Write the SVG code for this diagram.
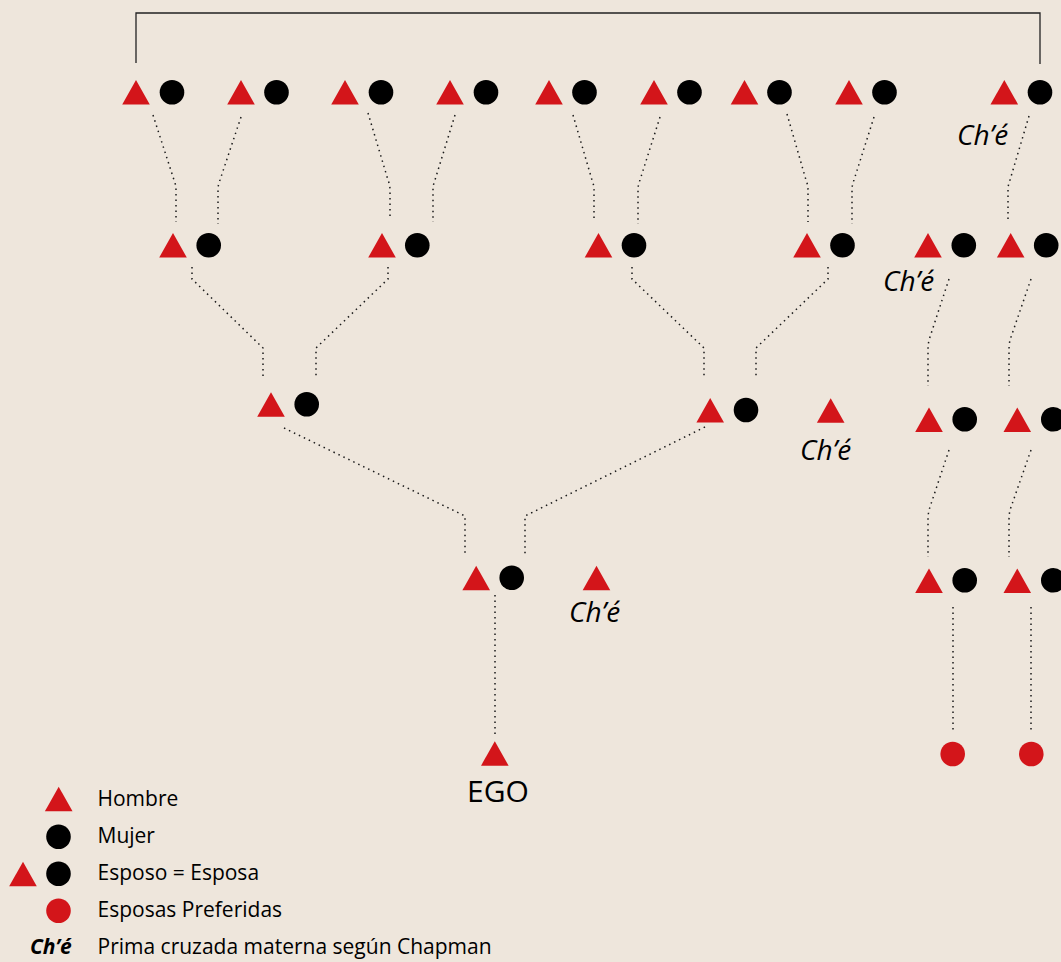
<svg xmlns="http://www.w3.org/2000/svg" xmlns:xlink="http://www.w3.org/1999/xlink" width="1061" height="962" viewBox="0 0 1061 962">
<style>
.m{fill:#D3151A}
.f{fill:#000}
.p{fill:#D3151A}
.c{fill:none;stroke:#1a1a1a;stroke-width:1.5;stroke-dasharray:1.5 4;stroke-linecap:butt}
.fr{fill:none;stroke:#222;stroke-width:1.3}
.che{font-family:"Open Sans","Noto Sans",sans-serif;font-style:italic;font-size:28px;fill:#000}
.lg{font-family:"Open Sans","Noto Sans",sans-serif;font-size:21px;fill:#000}
.ego{font-family:"Open Sans","Noto Sans",sans-serif;font-size:30px;fill:#000}
</style>
<defs>
<path id="tri" d="M0,-12.2 L13.8,12.2 L-13.8,12.2Z"/>
<circle id="dot" r="12.3"/>
</defs>
<rect width="1061" height="962" fill="#EEE6DC"/>
<g id="connectors">
<path class="fr" d="M136,63 L136,13 L1040,13 L1040,64"/>
<path class="c" d="M153,115 L174,180 Q176,185 176,190 L176,222"/>
<path class="c" d="M241,117 L220,180 Q218,185 218,190 L218,224"/>
<path class="c" d="M368,113 L388,180 Q390,185 390,190 L390,220"/>
<path class="c" d="M455,115 L435,180 Q433,185 433,190 L433,222"/>
<path class="c" d="M573,115 L592,180 Q594,185 594,190 L594,222"/>
<path class="c" d="M660,117 L640,180 Q638,185 638,190 L638,224"/>
<path class="c" d="M787,114 L806,180 Q808,185 808,190 L808,222"/>
<path class="c" d="M874,117 L854,180 Q852,185 852,190 L852,224"/>
<path class="c" d="M1029,116 L1010,180 Q1008,185 1008,190 L1008,222"/>
<path class="c" d="M192,267 L192,279 L263,348 L263,377"/>
<path class="c" d="M388,267 L388,279 L316,348 L316,377"/>
<path class="c" d="M632,267 L632,279 L704,348 L704,376"/>
<path class="c" d="M828,267 L828,279 L756,348 L756,376"/>
<path class="c" d="M949,279 L929,340 Q928,345 928,350 L928,386"/>
<path class="c" d="M1031,279 L1010,340 Q1009,345 1009,350 L1009,386"/>
<path class="c" d="M949,450 L929,510 Q928,515 928,520 L928,557"/>
<path class="c" d="M1031,450 L1010,510 Q1009,515 1009,520 L1009,557"/>
<path class="c" d="M284,428 L465,516 L465,554"/>
<path class="c" d="M705,427 L525,516 L525,554"/>
<path class="c" d="M495,595 L495,735"/>
<path class="c" d="M953,607 L953,730"/>
<path class="c" d="M1031,607 L1031,730"/>
</g>
<g id="gen1">
<g id="g1p1"><use href="#tri" class="m" x="136" y="92.3"/><use href="#dot" class="f" x="172" y="92.3"/></g>
<g id="g1p2"><use href="#tri" class="m" x="241" y="92.3"/><use href="#dot" class="f" x="276.5" y="92.3"/></g>
<g id="g1p3"><use href="#tri" class="m" x="345" y="92.3"/><use href="#dot" class="f" x="381" y="92.3"/></g>
<g id="g1p4"><use href="#tri" class="m" x="450" y="92.3"/><use href="#dot" class="f" x="486" y="92.3"/></g>
<g id="g1p5"><use href="#tri" class="m" x="549" y="92.3"/><use href="#dot" class="f" x="584.5" y="92.3"/></g>
<g id="g1p6"><use href="#tri" class="m" x="654" y="92.3"/><use href="#dot" class="f" x="689.5" y="92.3"/></g>
<g id="g1p7"><use href="#tri" class="m" x="744.5" y="92.3"/><use href="#dot" class="f" x="779.5" y="92.3"/></g>
<g id="g1p8"><use href="#tri" class="m" x="849" y="92.3"/><use href="#dot" class="f" x="884.5" y="92.3"/></g>
<g id="g1p9"><use href="#tri" class="m" x="1004.3" y="92.3"/><use href="#dot" class="f" x="1040" y="92.3"/></g>
<text id="che1" class="che" x="957" y="145">Ch’é</text>
</g>
<g id="gen2">
<g id="g2p1"><use href="#tri" class="m" x="173" y="245.3"/><use href="#dot" class="f" x="208.7" y="245.3"/></g>
<g id="g2p2"><use href="#tri" class="m" x="382" y="245.3"/><use href="#dot" class="f" x="417.3" y="245.3"/></g>
<g id="g2p3"><use href="#tri" class="m" x="598.5" y="245.3"/><use href="#dot" class="f" x="634" y="245.3"/></g>
<g id="g2p4"><use href="#tri" class="m" x="807" y="245.3"/><use href="#dot" class="f" x="842.5" y="245.3"/></g>
<g id="g2p5"><use href="#tri" class="m" x="928" y="245.3"/><use href="#dot" class="f" x="963.8" y="245.3"/></g>
<g id="g2p6"><use href="#tri" class="m" x="1010.7" y="245.3"/><use href="#dot" class="f" x="1046.2" y="245.3"/></g>
<text id="che2" class="che" x="883" y="291">Ch’é</text>
</g>
<g id="gen3">
<g id="g3p1"><use href="#tri" class="m" x="271" y="404.5"/><use href="#dot" class="f" x="306.7" y="404.3"/></g>
<g id="g3p2"><use href="#tri" class="m" x="710.2" y="410.3"/><use href="#dot" class="f" x="746" y="410"/></g>
<g id="g3m"><use href="#tri" class="m" x="830.7" y="410.5"/></g>
<text id="che3" class="che" x="800" y="460">Ch’é</text>
<g id="g3p3"><use href="#tri" class="m" x="929" y="419.7"/><use href="#dot" class="f" x="964.7" y="419.3"/></g>
<g id="g3p4"><use href="#tri" class="m" x="1017.3" y="419.7"/><use href="#dot" class="f" x="1053.3" y="419.3"/></g>
</g>
<g id="gen4">
<g id="g4p1"><use href="#tri" class="m" x="476.2" y="578"/><use href="#dot" class="f" x="511.7" y="577.7"/></g>
<g id="g4m"><use href="#tri" class="m" x="596.5" y="578"/></g>
<text id="che4" class="che" x="569" y="622">Ch’é</text>
<g id="g4p3"><use href="#tri" class="m" x="929" y="580.8"/><use href="#dot" class="f" x="964.7" y="580.3"/></g>
<g id="g4p4"><use href="#tri" class="m" x="1017.3" y="580.8"/><use href="#dot" class="f" x="1053.3" y="580.3"/></g>
</g>
<g id="ego">
<use href="#tri" class="m" x="494.8" y="753.5"/>
<text class="ego" x="498" y="801.5" text-anchor="middle">EGO</text>
</g>
<g id="wives">
<use href="#dot" class="p" x="952.7" y="754"/>
<use href="#dot" class="p" x="1031.3" y="754"/>
</g>
<g id="legend">
<g id="lg1"><use href="#tri" class="m" x="58.7" y="799"/><text class="lg" x="97.5" y="806">Hombre</text></g>
<g id="lg2"><use href="#dot" class="f" x="58.5" y="836.7"/><text class="lg" x="97.5" y="842.7">Mujer</text></g>
<g id="lg3"><use href="#tri" class="m" x="23" y="874"/><use href="#dot" class="f" x="58.5" y="873.7"/><text class="lg" x="97.5" y="880">Esposo = Esposa</text></g>
<g id="lg4"><use href="#dot" class="p" x="58.5" y="910.7"/><text class="lg" x="97.5" y="916.7">Esposas Preferidas</text></g>
<g id="lg5"><text class="lg" x="30" y="954" font-style="italic" font-weight="bold">Ch’é</text><text class="lg" x="97.5" y="954">Prima cruzada materna según Chapman</text></g>
</g>
</svg>
